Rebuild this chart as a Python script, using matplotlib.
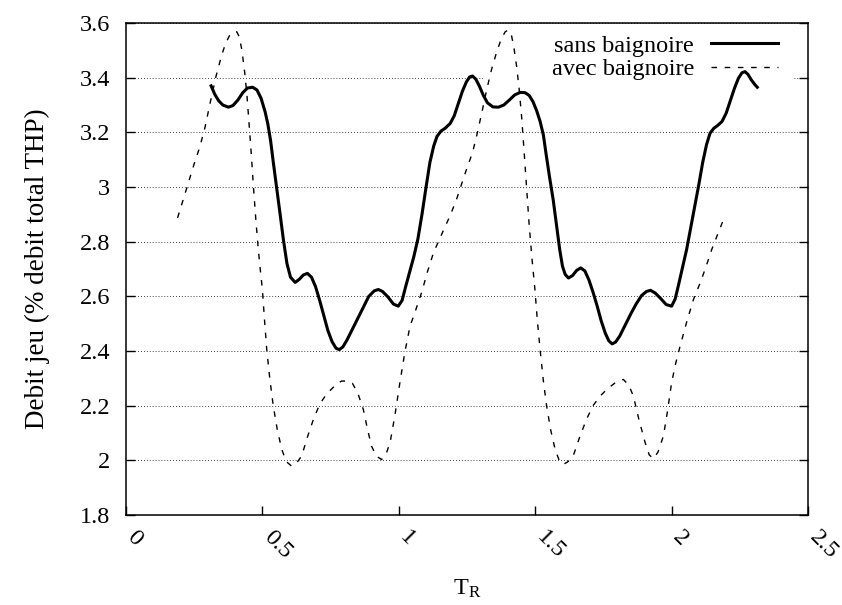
import matplotlib
matplotlib.use('Agg')
import matplotlib.pyplot as plt
import matplotlib.transforms as mtransforms
from matplotlib.patches import Rectangle

# sans baignoire (courbe pleine)
x_sans = [0.312, 0.325, 0.340, 0.355, 0.375, 0.392, 0.410, 0.428, 0.445, 0.464,
          0.480, 0.495, 0.510, 0.520, 0.530, 0.540, 0.552, 0.565, 0.577, 0.590,
          0.603, 0.620, 0.635, 0.650, 0.665, 0.680, 0.695, 0.710, 0.725, 0.740,
          0.755, 0.770, 0.782, 0.795, 0.810, 0.830, 0.850, 0.870, 0.890, 0.910,
          0.925, 0.940, 0.960, 0.980, 0.998, 1.012, 1.025, 1.040, 1.055, 1.070,
          1.085, 1.100, 1.114, 1.128, 1.140, 1.155, 1.170, 1.188, 1.203, 1.218,
          1.233, 1.248, 1.260, 1.270, 1.282, 1.295, 1.310, 1.325, 1.345, 1.365,
          1.385, 1.405, 1.425, 1.445, 1.463, 1.478, 1.492, 1.505, 1.518, 1.530,
          1.540, 1.552, 1.566, 1.578, 1.590, 1.600, 1.610, 1.622, 1.637, 1.652,
          1.667, 1.682, 1.697, 1.712, 1.727, 1.742, 1.757, 1.770, 1.782, 1.795,
          1.810, 1.830, 1.850, 1.870, 1.890, 1.908, 1.923, 1.940, 1.960, 1.980,
          2.000, 2.013, 2.025, 2.040, 2.055, 2.070, 2.085, 2.100, 2.114, 2.128,
          2.141, 2.155, 2.170, 2.185, 2.200, 2.215, 2.230, 2.245, 2.258, 2.269,
          2.280, 2.292, 2.305, 2.314]
y_sans = [3.370, 3.340, 3.315, 3.300, 3.292, 3.298, 3.318, 3.345, 3.362, 3.365,
          3.355, 3.325, 3.275, 3.230, 3.170, 3.090, 3.000, 2.900, 2.807, 2.720,
          2.670, 2.651, 2.662, 2.678, 2.684, 2.670, 2.635, 2.585, 2.530, 2.475,
          2.435, 2.410, 2.405, 2.415, 2.440, 2.480, 2.520, 2.560, 2.600, 2.620,
          2.625, 2.618, 2.598, 2.572, 2.564, 2.585, 2.635, 2.690, 2.745, 2.810,
          2.900, 3.000, 3.090, 3.150, 3.185, 3.205, 3.215, 3.232, 3.260, 3.305,
          3.350, 3.385, 3.403, 3.406, 3.395, 3.370, 3.335, 3.308, 3.293, 3.292,
          3.300, 3.318, 3.337, 3.346, 3.345, 3.335, 3.312, 3.280, 3.240, 3.190,
          3.120, 3.040, 2.953, 2.860, 2.770, 2.710, 2.680, 2.667, 2.676, 2.695,
          2.704, 2.693, 2.660, 2.615, 2.565, 2.510, 2.465, 2.437, 2.426, 2.433,
          2.455, 2.495, 2.535, 2.572, 2.603, 2.618, 2.622, 2.612, 2.592, 2.570,
          2.564, 2.590, 2.640, 2.705, 2.771, 2.850, 2.930, 3.010, 3.090, 3.155,
          3.197, 3.215, 3.226, 3.240, 3.270, 3.315, 3.360, 3.398, 3.418, 3.422,
          3.412, 3.392, 3.375, 3.365]

# avec baignoire (courbe pointillee)
x_avec = [0.189, 0.210, 0.230, 0.250, 0.271, 0.290, 0.310, 0.330, 0.350, 0.365,
          0.380, 0.395, 0.406, 0.415, 0.425, 0.435, 0.443, 0.452, 0.460, 0.467,
          0.476, 0.485, 0.493, 0.500, 0.508, 0.516, 0.527, 0.540, 0.555, 0.571,
          0.588, 0.607, 0.625, 0.644, 0.665, 0.687, 0.710, 0.730, 0.748, 0.770,
          0.790, 0.810, 0.830, 0.850, 0.870, 0.885, 0.900, 0.918, 0.937, 0.953,
          0.968, 0.985, 1.004, 1.022, 1.041, 1.062, 1.084, 1.105, 1.127, 1.145,
          1.163, 1.188, 1.210, 1.230, 1.250, 1.270, 1.286, 1.305, 1.322, 1.340,
          1.359, 1.375, 1.390, 1.401, 1.412, 1.422, 1.432, 1.441, 1.450, 1.460,
          1.469, 1.478, 1.488, 1.499, 1.508, 1.518, 1.530, 1.542, 1.557, 1.573,
          1.588, 1.603, 1.620, 1.639, 1.663, 1.688, 1.712, 1.738, 1.765, 1.795,
          1.823, 1.843, 1.860, 1.880, 1.903, 1.918, 1.933, 1.950, 1.970, 1.985,
          2.000, 2.015, 2.031, 2.055, 2.080, 2.105, 2.125, 2.147, 2.170, 2.190]
y_avec = [2.887, 2.955, 3.020, 3.085, 3.148, 3.220, 3.315, 3.405, 3.480, 3.525,
          3.555, 3.568, 3.568, 3.550, 3.500, 3.420, 3.340, 3.220, 3.110, 3.002,
          2.880, 2.771, 2.690, 2.625, 2.510, 2.405, 2.300, 2.198, 2.110, 2.040,
          1.995, 1.979, 1.990, 2.016, 2.085, 2.150, 2.205, 2.235, 2.255, 2.278,
          2.290, 2.290, 2.282, 2.245, 2.186, 2.115, 2.052, 2.015, 2.003, 2.022,
          2.065, 2.160, 2.284, 2.395, 2.490, 2.550, 2.615, 2.690, 2.759, 2.800,
          2.840, 2.895, 2.950, 3.010, 3.070, 3.125, 3.190, 3.275, 3.355, 3.430,
          3.495, 3.540, 3.568, 3.574, 3.560, 3.510, 3.440, 3.360, 3.260, 3.120,
          2.990, 2.860, 2.740, 2.625, 2.510, 2.405, 2.290, 2.198, 2.110, 2.040,
          2.000, 1.985, 1.995, 2.015, 2.085, 2.150, 2.200, 2.235, 2.262, 2.285,
          2.296, 2.275, 2.235, 2.150, 2.065, 2.020, 2.006, 2.030, 2.089, 2.180,
          2.284, 2.355, 2.417, 2.505, 2.588, 2.650, 2.705, 2.771, 2.830, 2.880]

xticks = [0, 0.5, 1, 1.5, 2, 2.5]
xticklabels = ['0', '0.5', '1', '1.5', '2', '2.5']
yticks = [1.8, 2, 2.2, 2.4, 2.6, 2.8, 3, 3.2, 3.4, 3.6]
yticklabels = ['1.8', '2', '2.2', '2.4', '2.6', '2.8', '3', '3.2', '3.4', '3.6']

plt.rcParams['font.family'] = ['Liberation Serif', 'DejaVu Serif']
plt.rcParams['font.size'] = 17.5
plt.rcParams['mathtext.fontset'] = 'custom'
plt.rcParams['mathtext.rm'] = 'Liberation Serif'
plt.rcParams['mathtext.it'] = 'Liberation Serif:italic'

fig = plt.figure(figsize=(8.42, 6.05), dpi=100)
ax = fig.add_axes([126 / 842, 90 / 605, 682 / 842, 492 / 605])

ax.plot(x_sans, y_sans, color='black', lw=2.2, zorder=3, label='sans baignoire',
        solid_joinstyle='round')
ax.plot(x_avec, y_avec, color='black', lw=1.0, dashes=(4, 5.5), zorder=3,
        label='avec baignoire')

ax.set_xlim(0, 2.5)
ax.set_ylim(1.8, 3.6)
ax.set_xticks(xticks)
ax.set_xticklabels(xticklabels)
ax.set_yticks(yticks)
ax.set_yticklabels(yticklabels)

ax.tick_params(axis='both', direction='in', length=6.5, width=1)
ax.tick_params(axis='y', right=True, pad=11.5)
ax.tick_params(axis='x', top=False, pad=14)
for sp in ax.spines.values():
    sp.set_linewidth(1.1)

off = mtransforms.ScaledTranslation(3.2 / 72, 0, fig.dpi_scale_trans)
for lab in ax.get_xticklabels():
    lab.set_rotation(-45)
    lab.set_rotation_mode('anchor')
    lab.set_ha('left')
    lab.set_va('center')
    lab.set_transform(lab.get_transform() + off)

ax.yaxis.grid(True, linestyle=(0, (1, 2.5)), color='black', lw=0.6)
ax.xaxis.grid(False)

# zone de la legende (masque la grille)
ax.add_patch(Rectangle((0.5235, 0.868), 0.4545, 0.13, transform=ax.transAxes,
                       facecolor='white', edgecolor='none', zorder=2))

ax.set_xlabel(r'$\mathrm{T_R}$')
ax.xaxis.set_label_coords(0.5, -0.128)
ax.set_ylabel('Debit jeu (% debit total THP)', fontsize=19.5)
ax.yaxis.set_label_coords(-0.112, 0.5)

leg = ax.legend(loc='upper right', bbox_to_anchor=(0.956, 0.976), frameon=False,
                markerfirst=False, handlelength=2.75, handletextpad=0.7,
                labelspacing=0.05, borderpad=0, borderaxespad=0)
leg.set_zorder(2.5)

fig.savefig('out.png', dpi=100)
